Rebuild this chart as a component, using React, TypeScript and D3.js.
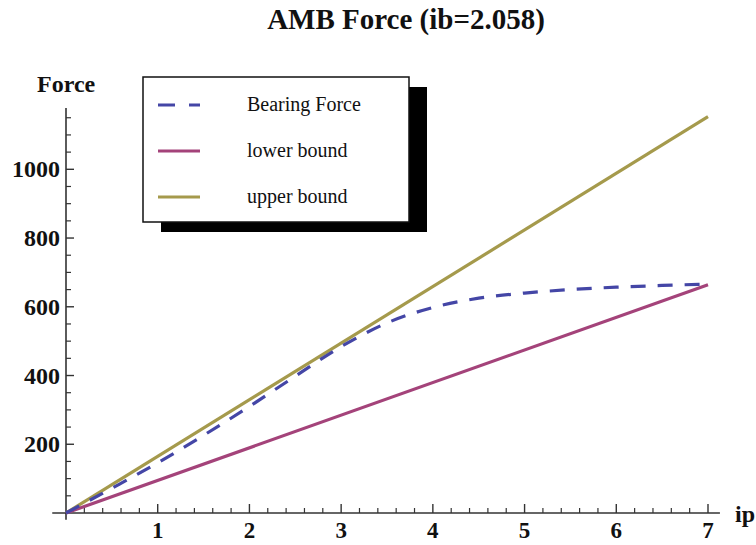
import React from "react";
import * as d3 from "d3";

const ipValues = [0, 0.5, 1, 1.5, 2, 2.5, 3, 3.5, 4, 4.5, 5, 5.5, 6, 6.5, 7];
const bearingForce = [0, 72, 146, 226, 310, 398, 484, 553, 598, 625, 640, 650, 657, 662, 666];
const lowerBound = [0, 664];
const upperBound = [0, 1153];
const boundIp = [0, 7];
const xTicks = [1, 2, 3, 4, 5, 6, 7];
const yTicks = [200, 400, 600, 800, 1000];
const legendLabels = ["Bearing Force", "lower bound", "upper bound"];
const colors = ["#4446a6", "#a4437a", "#a59a4c"];

export default function App() {
  const W = 756, H = 545;
  const x = d3.scaleLinear().domain([0, 7]).range([66, 708]);
  const y = d3.scaleLinear().domain([0, 1000]).range([513, 169.3]);
  const line = d3.line<[number, number]>().x(d => x(d[0])).y(d => y(d[1])).curve(d3.curveMonotoneX);
  const straight = d3.line<[number, number]>().x(d => x(d[0])).y(d => y(d[1]));

  const bearingPts = ipValues.map((v, i) => [v, bearingForce[i]] as [number, number]);
  const lowerPts = boundIp.map((v, i) => [v, lowerBound[i]] as [number, number]);
  const upperPts = boundIp.map((v, i) => [v, upperBound[i]] as [number, number]);

  const xMinor = d3.range(1, 36).map(i => i * 0.2).filter(v => Math.abs(v - Math.round(v)) > 1e-6);
  const yMinor = d3.range(1, 24).map(i => i * 50).filter(v => v % 200 !== 0);

  const axisColor = "#333";
  const serif = "'Liberation Serif', 'DejaVu Serif', serif";

  const legX = 143, legY = 77, legW = 266, legH = 145;
  const legRows = [105, 151, 197];

  return (
    <svg width={W} height={H} style={{ position: "absolute", left: 0, top: 0, background: "#fff" }} fontFamily={serif}>
      <rect width={W} height={H} fill="#fff" />
      <text x={406} y={29} textAnchor="middle" fontSize={29} fontWeight="bold" fill="#111">AMB Force (ib=2.058)</text>

      {/* axes */}
      <line x1={x(-0.15)} x2={x(7.13)} y1={y(0)} y2={y(0)} stroke={axisColor} strokeWidth={1.6} />
      <line x1={x(0)} x2={x(0)} y1={y(-20)} y2={y(1178)} stroke={axisColor} strokeWidth={1.6} />
      {xTicks.map(t => (
        <g key={"xt" + t}>
          <line x1={x(t)} x2={x(t)} y1={y(0)} y2={y(0) - 9} stroke={axisColor} strokeWidth={1.4} />
          <text x={x(t)} y={538} textAnchor="middle" fontSize={23} fontWeight="bold" fill="#111">{t}</text>
        </g>
      ))}
      {xMinor.map(t => (
        <line key={"xm" + t} x1={x(t)} x2={x(t)} y1={y(0)} y2={y(0) - 5} stroke={axisColor} strokeWidth={1.2} />
      ))}
      {yTicks.map(t => (
        <g key={"yt" + t}>
          <line x1={x(0)} x2={x(0) + 8} y1={y(t)} y2={y(t)} stroke={axisColor} strokeWidth={1.4} />
          <text x={60} y={y(t) + 8} textAnchor="end" fontSize={24} fontWeight="bold" fill="#111">{t}</text>
        </g>
      ))}
      {yMinor.map(t => (
        <line key={"ym" + t} x1={x(0)} x2={x(0) + 5} y1={y(t)} y2={y(t)} stroke={axisColor} strokeWidth={1.2} />
      ))}
      <text x={37} y={92} fontSize={24} fontWeight="bold" fill="#111">Force</text>
      <text x={735} y={522} fontSize={24} fontWeight="bold" fill="#111">ip</text>

      {/* series */}
      <path d={straight(upperPts) || ""} fill="none" stroke={colors[2]} strokeWidth={3.2} />
      <path d={straight(lowerPts) || ""} fill="none" stroke={colors[1]} strokeWidth={3.2} />
      <path d={line(bearingPts) || ""} fill="none" stroke={colors[0]} strokeWidth={3.2} strokeDasharray="15 12" />

      {/* legend */}
      <rect x={legX + 18} y={legY + 10} width={legW} height={legH} fill="#000" />
      <rect x={legX} y={legY} width={legW} height={legH} fill="#fff" stroke="#111" strokeWidth={1.5} />
      {legendLabels.map((lab, i) => (
        <g key={lab}>
          <line x1={158} x2={200} y1={legRows[i]} y2={legRows[i]} stroke={colors[i]} strokeWidth={3.2}
            strokeDasharray={i === 0 ? "17 14" : undefined} />
          <text x={247} y={legRows[i] + 6} fontSize={20} fill="#111">{lab}</text>
        </g>
      ))}
    </svg>
  );
}
